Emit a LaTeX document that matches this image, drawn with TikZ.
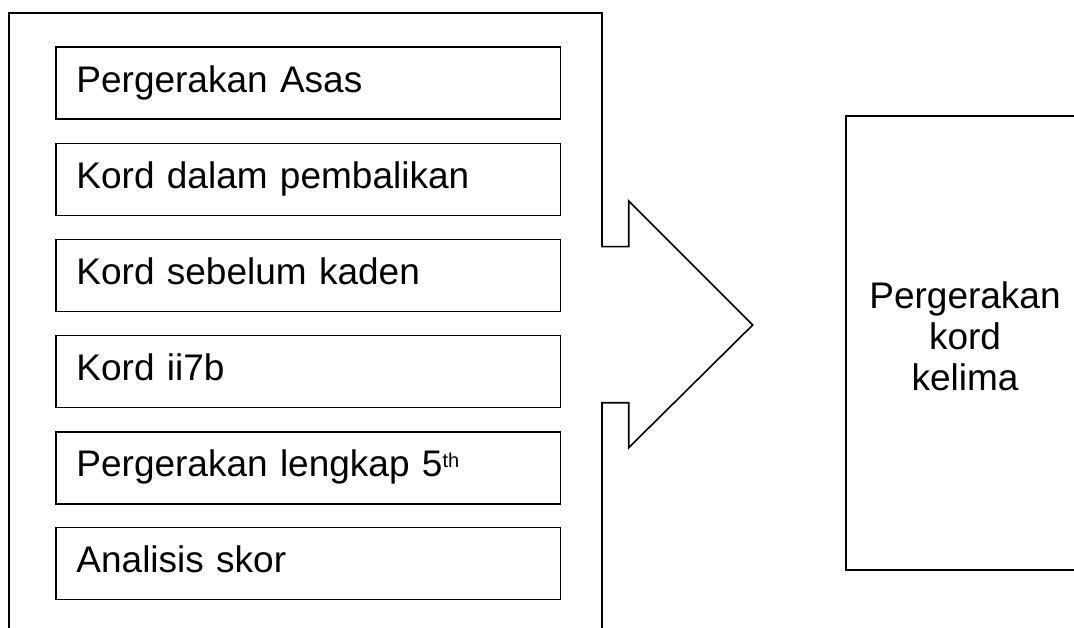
\documentclass[tikz,border=0pt]{standalone}
\usepackage{fontspec}
\setmainfont{Liberation Sans}
\begin{document}
\begin{tikzpicture}[x=1pt,y=-1pt,
  lw/.style={line width=1.6pt, line join=miter},
  itembox/.style={lw, draw, rectangle, anchor=center,
    minimum height=72pt, inner ysep=0pt, inner xsep=20.5pt,
    text width=463.7pt, align=left, text height=25pt, text depth=7pt,
    font=\fontsize{37}{41}\selectfont},
  resultbox/.style={lw, draw, rectangle, anchor=north west,
    minimum width=260pt, minimum height=454pt},
  resulttext/.style={align=center, font=\fontsize{37}{41}\selectfont, inner sep=0pt}
]
\useasboundingbox (0,0) rectangle (1074,628);
\clip (0,0) rectangle (1074,628);
% outer frame with arrow
\coordinate (f0) at (9,640);
\coordinate (f1) at (9,13);
\coordinate (f2) at (602,13);
\coordinate (f3) at (602,246.7);
\coordinate (f4) at (628.7,246.7);
\coordinate (f5) at (628.7,201);
\coordinate (tip) at (752.7,325);
\coordinate (f6) at (628.7,447.7);
\coordinate (f7) at (628.7,402.7);
\coordinate (f8) at (602,402.7);
\coordinate (f9) at (602,640);
\draw[lw] (f0) -- (f1) -- (f2) -- (f3) -- (f4) -- (f5) -- (tip) -- (f6) -- (f7) -- (f8) -- (f9);
% item boxes
\node[itembox] (b1) at (308.3,83.3) {Pergerakan Asas};
\node[itembox] (b2) at (308.3,179.4) {Kord dalam pembalikan};
\node[itembox] (b3) at (308.3,275.5) {Kord sebelum kaden};
\node[itembox] (b4) at (308.3,371.6) {Kord ii7b};
\node[itembox] (b5) at (308.3,467.7) {Pergerakan lengkap 5\raisebox{9pt}{\fontsize{20}{20}\selectfont th}};
\node[itembox] (b6) at (308.3,563.6) {Analisis skor};
% result box
\node[resultbox] (r) at (845,115) {};
\node[resulttext] (rt) at (965,336) {Pergerakan\\kord\\kelima};
\end{tikzpicture}
\end{document}
